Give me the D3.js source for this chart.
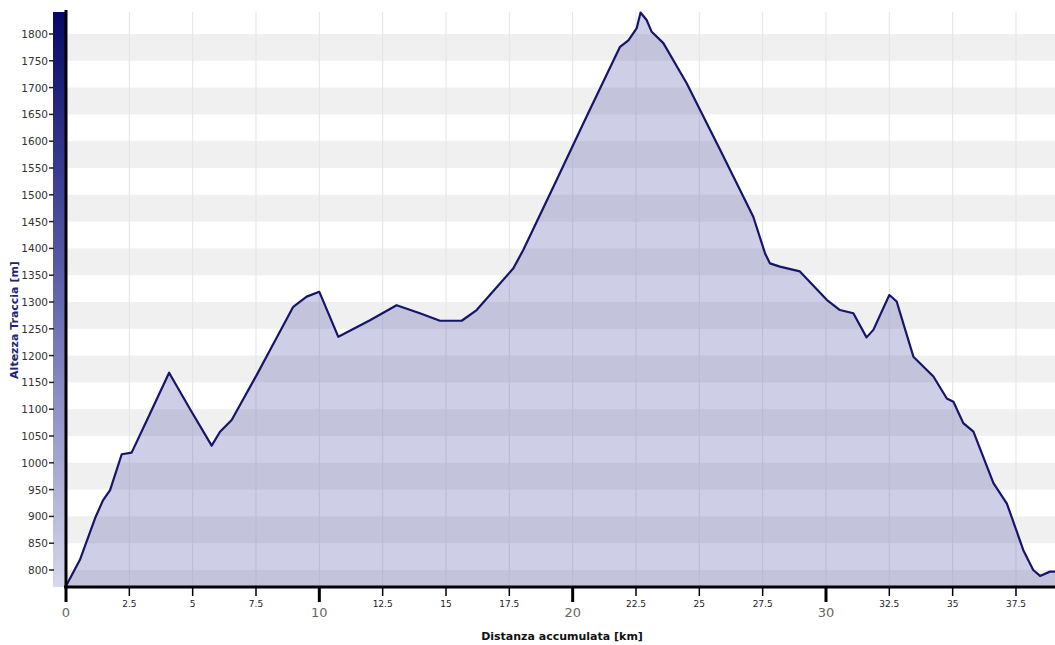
<!DOCTYPE html>
<html>
<head>
<meta charset="utf-8">
<script src="https://cdn.jsdelivr.net/npm/d3@7/dist/d3.min.js"></script>
<style>
  html, body { margin: 0; padding: 0; background: #fff; }
  svg { display: block; }
</style>
</head>
<body>
<svg id="profile" width="1055" height="645"></svg>
<script>
// Track profile: distance [km] and elevation [m]
var distanceKm = [0, 0.55, 1.15, 1.46, 1.74, 2.2, 2.59, 3.3, 4.07, 4.9, 5.75, 6.08, 6.54, 7.53, 8.05,
    8.97, 9.5, 10.0, 10.75, 12.0, 13.05, 13.97, 14.76, 15.62, 16.21, 17.66, 18.05, 19.24, 20.55,
    21.87, 22.2, 22.53, 22.68, 22.92, 23.12, 23.58, 24.5, 25.82, 27.13, 27.6, 27.79, 28.18, 28.97,
    30.03, 30.55, 31.08, 31.6, 31.87, 32.5, 32.79, 33.45, 34.24, 34.77, 35.03, 35.42, 35.82,
    36.61, 37.14, 37.79, 38.18, 38.45, 38.84, 39.04];
var elevationM = [770, 819, 897, 930, 949, 1016, 1019, 1090, 1168, 1100, 1032, 1058, 1080, 1164, 1210,
    1291, 1310, 1319, 1235, 1266, 1294, 1279, 1265, 1265, 1285, 1363, 1397, 1515, 1646,
    1776, 1788, 1811, 1840, 1826, 1804, 1783, 1708, 1584, 1459, 1390, 1372, 1366, 1357,
    1304, 1285, 1279, 1234, 1248, 1313, 1301, 1198, 1161, 1120, 1114, 1074, 1058,
    962, 924, 837, 800, 789, 797, 797];

var yTicks = d3.range(800, 1801, 50);
var xTicks = d3.range(0, 39, 2.5);
var xMajor = [0, 10, 20, 30];

var width = 1055, height = 645;
var margin = { left: 66, right: 0, top: 12, bottom: 58 };

var svg = d3.select("#profile");

var xScale = d3.scaleLinear()
    .domain([0, 39.04])
    .range([margin.left, width - margin.right]);

var yScale = d3.scaleLinear()
    .domain([768.3, 1841])
    .range([height - margin.bottom, margin.top]);

var plotTop = margin.top, plotBottom = height - margin.bottom;

var defs = svg.append("defs");
var grad = defs.append("linearGradient")
    .attr("id", "barGrad")
    .attr("x1", 0).attr("y1", 0).attr("x2", 0).attr("y2", 1);
grad.append("stop").attr("offset", "0%").attr("stop-color", "#080868");
grad.append("stop").attr("offset", "45%").attr("stop-color", "#5a5ca8");
grad.append("stop").attr("offset", "100%").attr("stop-color", "#d6d8ee");

defs.append("clipPath").attr("id", "plotClip")
    .append("rect")
    .attr("x", margin.left).attr("y", plotTop)
    .attr("width", width - margin.left).attr("height", plotBottom - plotTop);

// Alternating horizontal bands
var bandStarts = d3.range(750, 1800, 100);
svg.append("g").attr("clip-path", "url(#plotClip)")
    .selectAll("rect")
    .data(bandStarts)
    .enter()
    .append("rect")
    .attr("x", margin.left)
    .attr("width", width - margin.left)
    .attr("y", d => yScale(d + 50))
    .attr("height", d => yScale(d) - yScale(d + 50))
    .style("fill", "#f0f0f0");

// Vertical grid lines
svg.append("g")
    .selectAll("line")
    .data(xTicks.slice(1))
    .enter()
    .append("line")
    .attr("x1", d => xScale(d)).attr("x2", d => xScale(d))
    .attr("y1", plotTop).attr("y2", plotBottom)
    .style("stroke", "#e4e4e4")
    .style("stroke-width", 1);

// Profile area and line
var points = distanceKm.map((d, i) => [d, elevationM[i]]);

var area = d3.area()
    .x(d => xScale(d[0]))
    .y0(plotBottom)
    .y1(d => yScale(d[1]));

var line = d3.line()
    .x(d => xScale(d[0]))
    .y(d => yScale(d[1]));

svg.append("path")
    .datum(points)
    .attr("d", area)
    .style("fill", "#3a3f9a")
    .style("fill-opacity", 0.25);

svg.append("path")
    .datum(points)
    .attr("d", line)
    .style("fill", "none")
    .style("stroke", "#15156a")
    .style("stroke-width", 2.2)
    .style("stroke-linejoin", "round");

// Gradient bar next to the y axis
svg.append("rect")
    .attr("x", 53).attr("y", plotTop)
    .attr("width", 12).attr("height", plotBottom - plotTop)
    .style("fill", "url(#barGrad)");

// Y axis
var yAxis = svg.append("g");
yAxis.selectAll("line")
    .data(yTicks)
    .enter()
    .append("line")
    .attr("x1", 49).attr("x2", 54)
    .attr("y1", d => yScale(d)).attr("y2", d => yScale(d))
    .style("stroke", "#222")
    .style("stroke-width", 1.5);
yAxis.selectAll("text")
    .data(yTicks)
    .enter()
    .append("text")
    .text(d => d)
    .attr("x", 48)
    .attr("y", d => yScale(d) + 4)
    .attr("text-anchor", "end")
    .attr("font-family", "DejaVu Sans")
    .attr("font-size", "10.5px")
    .attr("fill", "#333");

svg.append("line")
    .attr("x1", 66).attr("x2", 66)
    .attr("y1", 10).attr("y2", plotBottom + 1)
    .style("stroke", "#000")
    .style("stroke-width", 3);

// X axis
svg.append("line")
    .attr("x1", 64).attr("x2", width)
    .attr("y1", plotBottom).attr("y2", plotBottom)
    .style("stroke", "#000")
    .style("stroke-width", 3);

var xAxis = svg.append("g");
xAxis.selectAll("line")
    .data(xTicks)
    .enter()
    .append("line")
    .attr("x1", d => xScale(d)).attr("x2", d => xScale(d))
    .attr("y1", plotBottom)
    .attr("y2", d => xMajor.includes(d) ? plotBottom + 15 : plotBottom + 9)
    .style("stroke", "#000")
    .style("stroke-width", d => xMajor.includes(d) ? 3 : 1.5);
xAxis.selectAll("text")
    .data(xTicks)
    .enter()
    .append("text")
    .text(d => d)
    .attr("x", d => xScale(d))
    .attr("y", d => xMajor.includes(d) ? plotBottom + 30 : plotBottom + 20)
    .attr("text-anchor", "middle")
    .attr("font-family", "DejaVu Sans")
    .attr("font-size", d => xMajor.includes(d) ? "13px" : "9px")
    .attr("fill", d => xMajor.includes(d) ? "#666" : "#222");

// Axis titles
svg.append("text")
    .text("Distanza accumulata [km]")
    .attr("x", 562)
    .attr("y", 640)
    .attr("text-anchor", "middle")
    .attr("font-family", "DejaVu Sans")
    .attr("font-weight", "bold")
    .attr("font-size", "11px")
    .attr("fill", "#111");

svg.append("text")
    .text("Altezza Traccia [m]")
    .attr("transform", "translate(18," + 320 + ") rotate(-90)")
    .attr("text-anchor", "middle")
    .attr("font-family", "DejaVu Sans")
    .attr("font-weight", "bold")
    .attr("font-size", "11px")
    .attr("fill", "#22227a");
</script>
</body>
</html>
